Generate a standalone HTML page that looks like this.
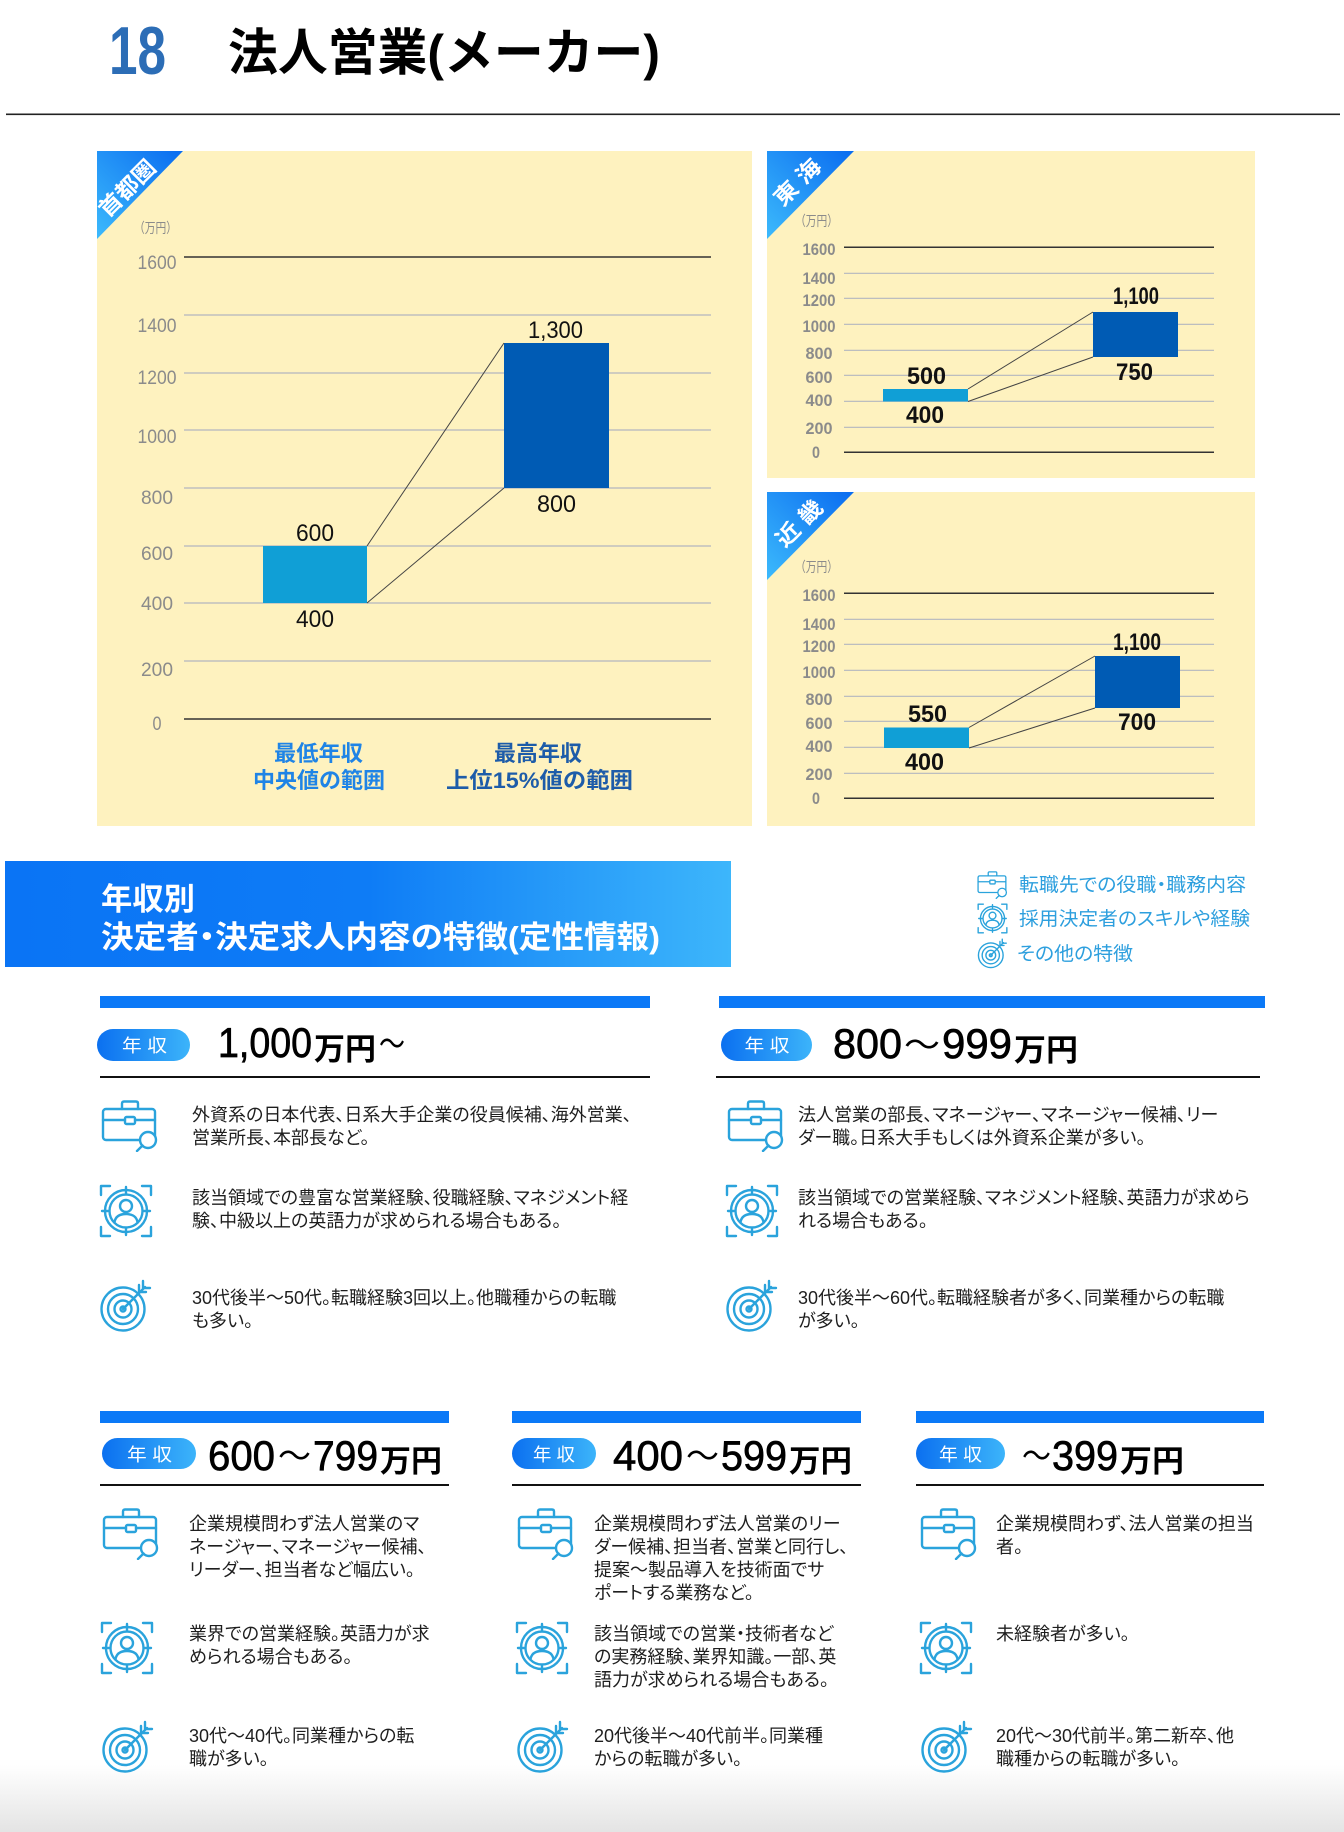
<!DOCTYPE html>
<html><head><meta charset="utf-8"><style>html,body{margin:0;padding:0;background:#fff;}svg{display:block}</style></head>
<body>
<svg width="1344" height="1832" viewBox="0 0 1344 1832" xmlns="http://www.w3.org/2000/svg">
<style>
text{font-family:"Liberation Sans","Noto Sans CJK JP",sans-serif;}
.b{font-size:18px;fill:#1e1e1e;font-feature-settings:"palt";}
.ax{fill:#8b8b8b;}
.ax2{fill:#8b8b8b;font-weight:bold;font-size:16.5px;}
.v{font-size:24px;fill:#111;}
.ic{fill:none;stroke:#2aa3dc;stroke-width:2.4;stroke-linecap:round;stroke-linejoin:round;}
.lg{font-size:19px;fill:#2d9fde;font-feature-settings:"palt";}
.pl{font-size:18px;fill:#fff;}
.hd{font-size:42px;fill:#000;stroke:#000;stroke-width:0.7;}
.my{font-size:31px;font-weight:bold;fill:#000;}
.wv{font-size:32px;fill:#000;}
</style>
<defs>
<linearGradient id="tri" x1="1" y1="0" x2="0" y2="1"><stop offset="0" stop-color="#0a6cf0"/><stop offset="1" stop-color="#3cbafc"/></linearGradient>
<linearGradient id="ban" x1="0" y1="0" x2="1" y2="0"><stop offset="0" stop-color="#0a74f5"/><stop offset="0.5" stop-color="#0e7cf6"/><stop offset="1" stop-color="#3db6fb"/></linearGradient>
<linearGradient id="pill" x1="0" y1="0" x2="1" y2="0"><stop offset="0" stop-color="#0b70f0"/><stop offset="1" stop-color="#3cb4fa"/></linearGradient>
<linearGradient id="bot" x1="0" y1="0" x2="0" y2="1"><stop offset="0" stop-color="#ffffff"/><stop offset="1" stop-color="#e4e4e4"/></linearGradient>
<symbol id="brief" viewBox="0 0 58 52"><g class="ic">
<path d="M21 9V3.5Q21 1.5 23 1.5H35Q37 1.5 37 3.5V9"/>
<rect x="2" y="9" width="52" height="31" rx="3"/>
<path d="M2 20H24M34 20H54"/>
<rect x="24" y="17" width="10" height="7" rx="1.5"/>
<circle cx="47" cy="40" r="8" fill="#fff"/>
<path d="M41.5 45.5L36 51"/>
</g></symbol>
<symbol id="pers" viewBox="0 0 54 54"><g class="ic">
<path d="M2 11V2H11M43 2H52V11M2 43V52H11M43 52H52V43"/>
<circle cx="27" cy="27" r="21"/>
<circle cx="27" cy="27" r="16.5"/>
<path d="M27 3V9M27 45V51M3 27H9M45 27H51"/>
<circle cx="27" cy="22" r="6"/>
<path d="M15.5 38Q17 30 27 30Q37 30 38.5 38"/>
</g></symbol>
<symbol id="targ" viewBox="0 0 54 54"><g class="ic">
<circle cx="24" cy="30" r="21.5"/>
<circle cx="24" cy="30" r="15"/>
<circle cx="24" cy="30" r="8.5"/>
<circle cx="24" cy="30" r="2.5"/>
<path d="M24 30L46 8"/>
<path d="M40 6V13H47"/>
<path d="M44 2V9H51"/>
</g></symbol>
</defs>

<!-- Title -->
<text x="109" y="74" font-size="68" font-weight="bold" fill="#2c6db6" textLength="57" lengthAdjust="spacingAndGlyphs">18</text>
<text x="228" y="70" font-size="50" font-weight="bold" fill="#000" textLength="432" lengthAdjust="spacingAndGlyphs">法人営業(メーカー)</text>
<rect x="6" y="113.5" width="1334" height="1.6" fill="#222"/>

<!-- Shuto panel -->
<rect x="97" y="151" width="655" height="675" fill="#fef2bf"/>
<polygon points="97,151 183,151 97,239" fill="url(#tri)"/>
<text transform="translate(127,188) rotate(-45)" text-anchor="middle" y="8" font-size="22" font-weight="bold" fill="#fff" textLength="70" lengthAdjust="spacingAndGlyphs">首都圏</text>
<text x="134" y="233" font-size="14" class="ax" textLength="43" lengthAdjust="spacingAndGlyphs">（万円）</text>
<g stroke="#b3b6bf" stroke-width="1.2">
<line x1="184" y1="315" x2="711" y2="315"/><line x1="184" y1="373" x2="711" y2="373"/><line x1="184" y1="430" x2="711" y2="430"/><line x1="184" y1="488" x2="711" y2="488"/><line x1="184" y1="546" x2="711" y2="546"/><line x1="184" y1="603" x2="711" y2="603"/><line x1="184" y1="661" x2="711" y2="661"/>
</g>
<line x1="184" y1="257" x2="711" y2="257" stroke="#333" stroke-width="1.5"/>
<line x1="184" y1="719" x2="711" y2="719" stroke="#333" stroke-width="1.5"/>
<g class="ax" font-size="19" text-anchor="middle">
<text x="157" y="269" textLength="39" lengthAdjust="spacingAndGlyphs">1600</text>
<text x="157" y="332" textLength="39" lengthAdjust="spacingAndGlyphs">1400</text>
<text x="157" y="384" textLength="39" lengthAdjust="spacingAndGlyphs">1200</text>
<text x="157" y="443" textLength="39" lengthAdjust="spacingAndGlyphs">1000</text>
<text x="157" y="504" textLength="32" lengthAdjust="spacingAndGlyphs">800</text>
<text x="157" y="560" textLength="32" lengthAdjust="spacingAndGlyphs">600</text>
<text x="157" y="610" textLength="32" lengthAdjust="spacingAndGlyphs">400</text>
<text x="157" y="676" textLength="32" lengthAdjust="spacingAndGlyphs">200</text>
<text x="157" y="730" textLength="9" lengthAdjust="spacingAndGlyphs">0</text>
</g>
<rect x="263" y="546" width="104" height="57" fill="#109fd6"/>
<rect x="504" y="343" width="105" height="145" fill="#005bb4"/>
<line x1="367" y1="546" x2="504" y2="343" stroke="#444" stroke-width="1"/>
<line x1="367" y1="603" x2="504" y2="488" stroke="#444" stroke-width="1"/>
<text class="v" x="528" y="338" textLength="55" lengthAdjust="spacingAndGlyphs">1,300</text>
<text class="v" x="537" y="512" textLength="39" lengthAdjust="spacingAndGlyphs">800</text>
<text class="v" x="296" y="541" textLength="38" lengthAdjust="spacingAndGlyphs">600</text>
<text class="v" x="296" y="627" textLength="38" lengthAdjust="spacingAndGlyphs">400</text>
<g font-size="22" font-weight="bold">
<text x="274" y="761" fill="#1f84e6" textLength="89" lengthAdjust="spacingAndGlyphs">最低年収</text>
<text x="253" y="788" fill="#1f84e6" textLength="132" lengthAdjust="spacingAndGlyphs">中央値の範囲</text>
<text x="494" y="761" fill="#1d5ca9" textLength="88" lengthAdjust="spacingAndGlyphs">最高年収</text>
<text x="446" y="788" fill="#1d5ca9" textLength="187" lengthAdjust="spacingAndGlyphs">上位15%値の範囲</text>
</g>

<!-- Tokai panel -->
<rect x="767" y="151" width="488" height="327" fill="#fef2bf"/>
<polygon points="767,151 854,151 767,239" fill="url(#tri)"/>
<text transform="translate(797,182) rotate(-45)" text-anchor="middle" y="8" font-size="22" font-weight="bold" fill="#fff" textLength="56" lengthAdjust="spacingAndGlyphs">東 海</text>
<text x="795" y="226" font-size="14" class="ax" textLength="43" lengthAdjust="spacingAndGlyphs">（万円）</text>
<g stroke="#b3b6bf" stroke-width="1.2">
<line x1="844" y1="273.3" x2="1214" y2="273.3"/><line x1="844" y1="298.3" x2="1214" y2="298.3"/><line x1="844" y1="324.3" x2="1214" y2="324.3"/><line x1="844" y1="350.3" x2="1214" y2="350.3"/><line x1="844" y1="375.3" x2="1214" y2="375.3"/><line x1="844" y1="401.3" x2="1214" y2="401.3"/><line x1="844" y1="427.3" x2="1214" y2="427.3"/>
</g>
<line x1="844" y1="247.3" x2="1214" y2="247.3" stroke="#333" stroke-width="1.5"/>
<line x1="844" y1="452.3" x2="1214" y2="452.3" stroke="#333" stroke-width="1.5"/>
<g class="ax2" text-anchor="middle">
<text x="819" y="255" textLength="33" lengthAdjust="spacingAndGlyphs">1600</text>
<text x="819" y="284" textLength="33" lengthAdjust="spacingAndGlyphs">1400</text>
<text x="819" y="306" textLength="33" lengthAdjust="spacingAndGlyphs">1200</text>
<text x="819" y="332" textLength="33" lengthAdjust="spacingAndGlyphs">1000</text>
<text x="819" y="359" textLength="27" lengthAdjust="spacingAndGlyphs">800</text>
<text x="819" y="383" textLength="27" lengthAdjust="spacingAndGlyphs">600</text>
<text x="819" y="406" textLength="27" lengthAdjust="spacingAndGlyphs">400</text>
<text x="819" y="434" textLength="27" lengthAdjust="spacingAndGlyphs">200</text>
<text x="816" y="458" textLength="8" lengthAdjust="spacingAndGlyphs">0</text>
</g>
<rect x="883" y="389" width="85" height="12.5" fill="#109fd6"/>
<rect x="1093" y="312" width="85" height="45" fill="#005bb4"/>
<line x1="968" y1="389" x2="1093" y2="312" stroke="#444" stroke-width="1"/>
<line x1="968" y1="401.5" x2="1093" y2="357" stroke="#444" stroke-width="1"/>
<g class="v" font-weight="bold">
<text x="907" y="384" textLength="39" lengthAdjust="spacingAndGlyphs">500</text>
<text x="906" y="423" textLength="38" lengthAdjust="spacingAndGlyphs">400</text>
<text x="1113" y="304" textLength="46" lengthAdjust="spacingAndGlyphs">1,100</text>
<text x="1116" y="380" textLength="37" lengthAdjust="spacingAndGlyphs">750</text>
</g>

<!-- Kinki panel -->
<rect x="767" y="492" width="488" height="334" fill="#fef2bf"/>
<polygon points="767,492 854,492 767,580" fill="url(#tri)"/>
<text transform="translate(799,523) rotate(-45)" text-anchor="middle" y="8" font-size="22" font-weight="bold" fill="#fff" textLength="56" lengthAdjust="spacingAndGlyphs">近 畿</text>
<text x="795" y="572" font-size="14" class="ax" textLength="43" lengthAdjust="spacingAndGlyphs">（万円）</text>
<g stroke="#b3b6bf" stroke-width="1.2">
<line x1="844" y1="619.3" x2="1214" y2="619.3"/><line x1="844" y1="644.3" x2="1214" y2="644.3"/><line x1="844" y1="670.3" x2="1214" y2="670.3"/><line x1="844" y1="696.3" x2="1214" y2="696.3"/><line x1="844" y1="721.3" x2="1214" y2="721.3"/><line x1="844" y1="747.3" x2="1214" y2="747.3"/><line x1="844" y1="773.3" x2="1214" y2="773.3"/>
</g>
<line x1="844" y1="593.3" x2="1214" y2="593.3" stroke="#333" stroke-width="1.5"/>
<line x1="844" y1="798.3" x2="1214" y2="798.3" stroke="#333" stroke-width="1.5"/>
<g class="ax2" text-anchor="middle">
<text x="819" y="601" textLength="33" lengthAdjust="spacingAndGlyphs">1600</text>
<text x="819" y="630" textLength="33" lengthAdjust="spacingAndGlyphs">1400</text>
<text x="819" y="652" textLength="33" lengthAdjust="spacingAndGlyphs">1200</text>
<text x="819" y="678" textLength="33" lengthAdjust="spacingAndGlyphs">1000</text>
<text x="819" y="705" textLength="27" lengthAdjust="spacingAndGlyphs">800</text>
<text x="819" y="729" textLength="27" lengthAdjust="spacingAndGlyphs">600</text>
<text x="819" y="752" textLength="27" lengthAdjust="spacingAndGlyphs">400</text>
<text x="819" y="780" textLength="27" lengthAdjust="spacingAndGlyphs">200</text>
<text x="816" y="804" textLength="8" lengthAdjust="spacingAndGlyphs">0</text>
</g>
<rect x="884" y="727.5" width="85" height="20.5" fill="#109fd6"/>
<rect x="1095" y="656" width="85" height="52" fill="#005bb4"/>
<line x1="969" y1="727.5" x2="1095" y2="656" stroke="#444" stroke-width="1"/>
<line x1="969" y1="748" x2="1095" y2="708" stroke="#444" stroke-width="1"/>
<g class="v" font-weight="bold">
<text x="908" y="722" textLength="39" lengthAdjust="spacingAndGlyphs">550</text>
<text x="905" y="770" textLength="39" lengthAdjust="spacingAndGlyphs">400</text>
<text x="1113" y="650" textLength="48" lengthAdjust="spacingAndGlyphs">1,100</text>
<text x="1118" y="730" textLength="38" lengthAdjust="spacingAndGlyphs">700</text>
</g>

<!-- Banner -->
<rect x="5" y="861" width="726" height="106" fill="url(#ban)"/>
<text x="101" y="910" font-size="31" font-weight="bold" fill="#fff" textLength="94" lengthAdjust="spacingAndGlyphs">年収別</text>
<text x="101" y="948" font-size="31" font-weight="bold" fill="#fff" style="font-feature-settings:'palt'" textLength="559" lengthAdjust="spacingAndGlyphs">決定者・決定求人内容の特徴(定性情報)</text>

<!-- Legend -->
<use href="#brief" x="977" y="871" width="31" height="28"/>
<use href="#pers" x="977" y="903" width="31" height="31"/>
<use href="#targ" x="977" y="938" width="31" height="31"/>
<text class="lg" x="1019" y="891" textLength="227" lengthAdjust="spacingAndGlyphs">転職先での役職・職務内容</text>
<text class="lg" x="1019" y="925" textLength="231" lengthAdjust="spacingAndGlyphs">採用決定者のスキルや経験</text>
<text class="lg" x="1017" y="960" textLength="116" lengthAdjust="spacingAndGlyphs">その他の特徴</text>

<!-- Row 1 -->
<rect x="100" y="996" width="550" height="12" fill="#0b79f7"/>
<rect x="719" y="996" width="546" height="12" fill="#0b79f7"/>
<rect x="100" y="1076" width="550" height="2" fill="#111"/>
<rect x="716" y="1076" width="544" height="2" fill="#111"/>
<rect x="97" y="1029" width="93" height="32" rx="16" fill="url(#pill)"/>
<rect x="721" y="1029" width="91" height="32" rx="16" fill="url(#pill)"/>
<text class="pl" x="144.5" y="1052" text-anchor="middle" textLength="45" lengthAdjust="spacingAndGlyphs">年 収</text>
<text class="pl" x="767" y="1052" text-anchor="middle" textLength="45" lengthAdjust="spacingAndGlyphs">年 収</text>

<text class="hd" x="218" y="1057" font-size="41" textLength="94" lengthAdjust="spacingAndGlyphs">1,000</text>
<text class="my" x="314" y="1060" textLength="62" lengthAdjust="spacingAndGlyphs">万円</text>
<text class="wv" x="379" y="1055" textLength="26" lengthAdjust="spacingAndGlyphs">～</text>

<text class="hd" x="833" y="1058" font-size="41" textLength="69" lengthAdjust="spacingAndGlyphs">800</text>
<text class="wv" x="904" y="1056" textLength="36" lengthAdjust="spacingAndGlyphs">～</text>
<text class="hd" x="942" y="1058" font-size="41" textLength="70" lengthAdjust="spacingAndGlyphs">999</text>
<text class="my" x="1014" y="1061" textLength="64" lengthAdjust="spacingAndGlyphs">万円</text>

<use href="#brief" x="100" y="1100" width="60" height="52"/>
<use href="#pers" x="99" y="1184" width="54" height="54"/>
<use href="#targ" x="99" y="1279" width="54" height="54"/>
<use href="#brief" x="726" y="1100" width="60" height="52"/>
<use href="#pers" x="725" y="1184" width="54" height="54"/>
<use href="#targ" x="725" y="1279" width="54" height="54"/>

<g class="b">
<text x="192" y="1121">外資系の日本代表、日系大手企業の役員候補、海外営業、</text>
<text x="192" y="1144">営業所長、本部長など。</text>
<text x="192" y="1204">該当領域での豊富な営業経験、役職経験、マネジメント経</text>
<text x="192" y="1227">験、中級以上の英語力が求められる場合もある。</text>
<text x="192" y="1304">30代後半～50代。転職経験3回以上。他職種からの転職</text>
<text x="192" y="1327">も多い。</text>
<text x="798" y="1121">法人営業の部長、マネージャー、マネージャー候補、リー</text>
<text x="798" y="1144">ダー職。日系大手もしくは外資系企業が多い。</text>
<text x="798" y="1204">該当領域での営業経験、マネジメント経験、英語力が求めら</text>
<text x="798" y="1227">れる場合もある。</text>
<text x="798" y="1304">30代後半～60代。転職経験者が多く、同業種からの転職</text>
<text x="798" y="1327">が多い。</text>
</g>

<!-- bottom gradient -->
<rect x="0" y="1765" width="1344" height="67" fill="url(#bot)"/>

<!-- Row 2 -->
<rect x="100" y="1411" width="349" height="12" fill="#0b79f7"/>
<rect x="512" y="1411" width="349" height="12" fill="#0b79f7"/>
<rect x="916" y="1411" width="348" height="12" fill="#0b79f7"/>
<rect x="100" y="1484" width="349" height="2" fill="#111"/>
<rect x="512" y="1484" width="349" height="2" fill="#111"/>
<rect x="916" y="1484" width="348" height="2" fill="#111"/>
<rect x="102" y="1438" width="94" height="31" rx="15.5" fill="url(#pill)"/>
<rect x="512" y="1438" width="84" height="31" rx="15.5" fill="url(#pill)"/>
<rect x="916" y="1438" width="89" height="31" rx="15.5" fill="url(#pill)"/>
<text class="pl" x="149.5" y="1461" text-anchor="middle" textLength="45" lengthAdjust="spacingAndGlyphs">年 収</text>
<text class="pl" x="554" y="1461" text-anchor="middle" textLength="42" lengthAdjust="spacingAndGlyphs">年 収</text>
<text class="pl" x="960.5" y="1461" text-anchor="middle" textLength="43" lengthAdjust="spacingAndGlyphs">年 収</text>

<text class="hd" x="208" y="1470" font-size="43" textLength="67" lengthAdjust="spacingAndGlyphs">600</text>
<text class="wv" x="278" y="1467" textLength="33" lengthAdjust="spacingAndGlyphs">～</text>
<text class="hd" x="313" y="1470" font-size="43" textLength="65" lengthAdjust="spacingAndGlyphs">799</text>
<text class="my" x="380" y="1472" textLength="62" lengthAdjust="spacingAndGlyphs">万円</text>

<text class="hd" x="613" y="1470" font-size="43" textLength="70" lengthAdjust="spacingAndGlyphs">400</text>
<text class="wv" x="686" y="1467" textLength="33" lengthAdjust="spacingAndGlyphs">～</text>
<text class="hd" x="721" y="1470" font-size="43" textLength="66" lengthAdjust="spacingAndGlyphs">599</text>
<text class="my" x="789" y="1472" textLength="63" lengthAdjust="spacingAndGlyphs">万円</text>

<text class="wv" x="1022" y="1467" textLength="29" lengthAdjust="spacingAndGlyphs">～</text>
<text class="hd" x="1052" y="1470" font-size="43" textLength="66" lengthAdjust="spacingAndGlyphs">399</text>
<text class="my" x="1120" y="1472" textLength="64" lengthAdjust="spacingAndGlyphs">万円</text>

<use href="#brief" x="102" y="1508" width="58" height="52"/>
<use href="#pers" x="100" y="1621" width="54" height="54"/>
<use href="#targ" x="101" y="1720" width="54" height="54"/>
<use href="#brief" x="517" y="1508" width="58" height="52"/>
<use href="#pers" x="515" y="1621" width="54" height="54"/>
<use href="#targ" x="516" y="1720" width="54" height="54"/>
<use href="#brief" x="920" y="1508" width="58" height="52"/>
<use href="#pers" x="919" y="1621" width="54" height="54"/>
<use href="#targ" x="920" y="1720" width="54" height="54"/>

<g class="b">
<text x="189" y="1530">企業規模問わず法人営業のマ</text>
<text x="189" y="1553">ネージャー、マネージャー候補、</text>
<text x="189" y="1576">リーダー、担当者など幅広い。</text>
<text x="189" y="1640">業界での営業経験。英語力が求</text>
<text x="189" y="1663">められる場合もある。</text>
<text x="189" y="1742">30代～40代。同業種からの転</text>
<text x="189" y="1765">職が多い。</text>

<text x="594" y="1530">企業規模問わず法人営業のリー</text>
<text x="594" y="1553">ダー候補、担当者、営業と同行し、</text>
<text x="594" y="1576">提案～製品導入を技術面でサ</text>
<text x="594" y="1599">ポートする業務など。</text>
<text x="594" y="1640">該当領域での営業・技術者など</text>
<text x="594" y="1663">の実務経験、業界知識。一部、英</text>
<text x="594" y="1686">語力が求められる場合もある。</text>
<text x="594" y="1742">20代後半～40代前半。同業種</text>
<text x="594" y="1765">からの転職が多い。</text>

<text x="996" y="1530">企業規模問わず、法人営業の担当</text>
<text x="996" y="1553">者。</text>
<text x="996" y="1640">未経験者が多い。</text>
<text x="996" y="1742">20代～30代前半。第二新卒、他</text>
<text x="996" y="1765">職種からの転職が多い。</text>
</g>
</svg>
</body></html>
